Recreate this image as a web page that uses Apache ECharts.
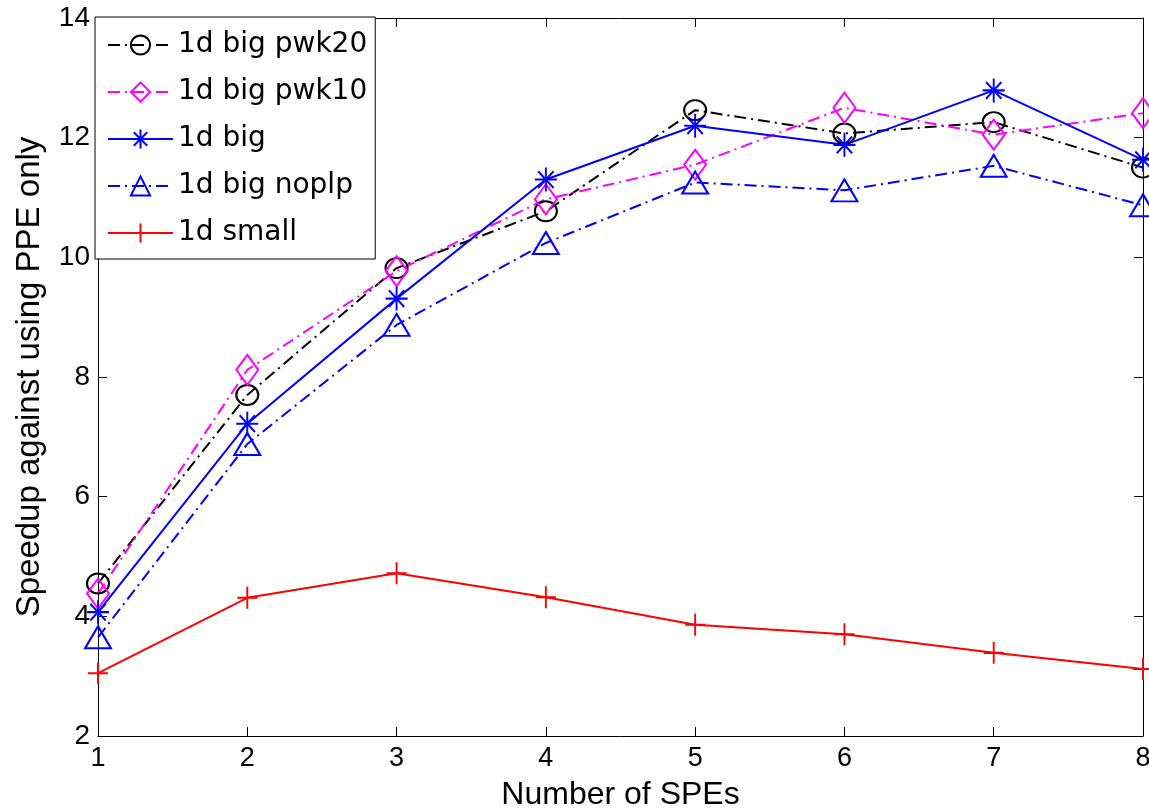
<!DOCTYPE html>
<html>
<head>
<meta charset="utf-8">
<script src="https://cdn.jsdelivr.net/npm/echarts@6/dist/echarts.min.js"></script>
<style>
html,body{margin:0;padding:0;background:#fff;}
#chart{width:1149px;height:811px;}
</style>
</head>
<body>
<div id="chart"></div>
<script>
const spes = [1, 2, 3, 4, 5, 6, 7, 8];
const seriesNames = ['1d big pwk20', '1d big pwk10', '1d big', '1d big noplp', '1d small'];
const pwk20 = [4.55, 7.70, 9.82, 10.77, 12.46, 12.07, 12.26, 11.50];
const pwk10 = [4.38, 8.12, 9.77, 10.97, 11.55, 12.50, 12.05, 12.41];
const big = [4.07, 7.22, 9.31, 11.30, 12.20, 11.88, 12.79, 11.63];
const noplp = [3.65, 6.88, 8.87, 10.24, 11.25, 11.12, 11.53, 10.87];
const small = [3.05, 4.31, 4.72, 4.32, 3.86, 3.70, 3.39, 3.12];
const xLabel = 'Number of SPEs';
const yLabel = 'Speedup against using PPE only';

const chart = echarts.init(document.getElementById('chart'));
const pairs = v => spes.map((x, i) => [x, v[i]]);
const dashDot = [12, 5, 2, 5];
const starPath = 'path://M0,-10L0,10M-10,0L10,0M-7,-7L7,7M-7,7L7,-7';
const plusPath = 'path://M0,-10L0,10M-10,0L10,0';

function mk(name, data, color, dash, symbol, size) {
  return {
    name: name, type: 'line', data: pairs(data),
    symbol: symbol, symbolSize: size, showSymbol: true,
    lineStyle: {color: color, width: 2, type: dash},
    itemStyle: {color: 'rgba(0,0,0,0)', borderColor: color, borderWidth: 2},
    emphasis: {disabled: true},
    animation: false
  };
}

const font = 'Liberation Sans, Arial, Helvetica, sans-serif';
chart.setOption({
  animation: false,
  grid: {left: 98, right: 6, top: 18, bottom: 75, containLabel: false, outerBoundsMode: 'none'},
  legend: {
    orient: 'vertical', left: 95, top: 17,
    backgroundColor: '#fff', borderColor: '#000', borderWidth: 1,
    padding: [13, 8, 11, 12],
    itemWidth: 65, itemHeight: 24, itemGap: 17,
    textStyle: {fontFamily: 'DejaVu Sans', fontSize: 28, color: '#000', lineHeight: 30},
    data: seriesNames
  },
  xAxis: [{
    type: 'value', min: 1, max: 8, interval: 1,
    name: xLabel, nameLocation: 'middle', nameGap: 43,
    nameTextStyle: {fontFamily: font, fontSize: 32, color: '#000'},
    axisLine: {show: true, onZero: false, lineStyle: {color: '#000', width: 1}},
    axisTick: {show: true, inside: true, length: 9, lineStyle: {color: '#000'}},
    axisLabel: {fontFamily: font, fontSize: 27, color: '#000', margin: 9},
    splitLine: {show: false}
  }, {
    type: 'value', min: 1, max: 8, interval: 1, position: 'top',
    axisLine: {show: true, onZero: false, lineStyle: {color: '#000', width: 1}},
    axisTick: {show: true, inside: true, length: 9, lineStyle: {color: '#000'}},
    axisLabel: {show: false}, splitLine: {show: false}
  }],
  yAxis: [{
    type: 'value', min: 2, max: 14, interval: 2,
    name: yLabel, nameLocation: 'middle', nameGap: 52,
    nameTextStyle: {fontFamily: font, fontSize: 33, color: '#000'},
    axisLine: {show: true, onZero: false, lineStyle: {color: '#000', width: 1}},
    axisTick: {show: true, inside: true, length: 9, lineStyle: {color: '#000'}},
    axisLabel: {fontFamily: font, fontSize: 28, color: '#000', margin: 8},
    splitLine: {show: false}
  }, {
    type: 'value', min: 2, max: 14, interval: 2, position: 'right',
    axisLine: {show: true, onZero: false, lineStyle: {color: '#000', width: 1}},
    axisTick: {show: true, inside: true, length: 9, lineStyle: {color: '#000'}},
    axisLabel: {show: false}, splitLine: {show: false}
  }],
  series: [
    mk(seriesNames[0], pwk20, '#000000', dashDot, 'circle', [22, 20]),
    mk(seriesNames[1], pwk10, '#ff00ff', dashDot, 'diamond', [22, 30]),
    mk(seriesNames[2], big, '#0000ff', 'solid', starPath, [22, 24]),
    mk(seriesNames[3], noplp, '#0000ff', dashDot, 'triangle', [26, 22]),
    mk(seriesNames[4], small, '#ff0000', 'solid', plusPath, [20, 22])
  ]
});
</script>
</body>
</html>
